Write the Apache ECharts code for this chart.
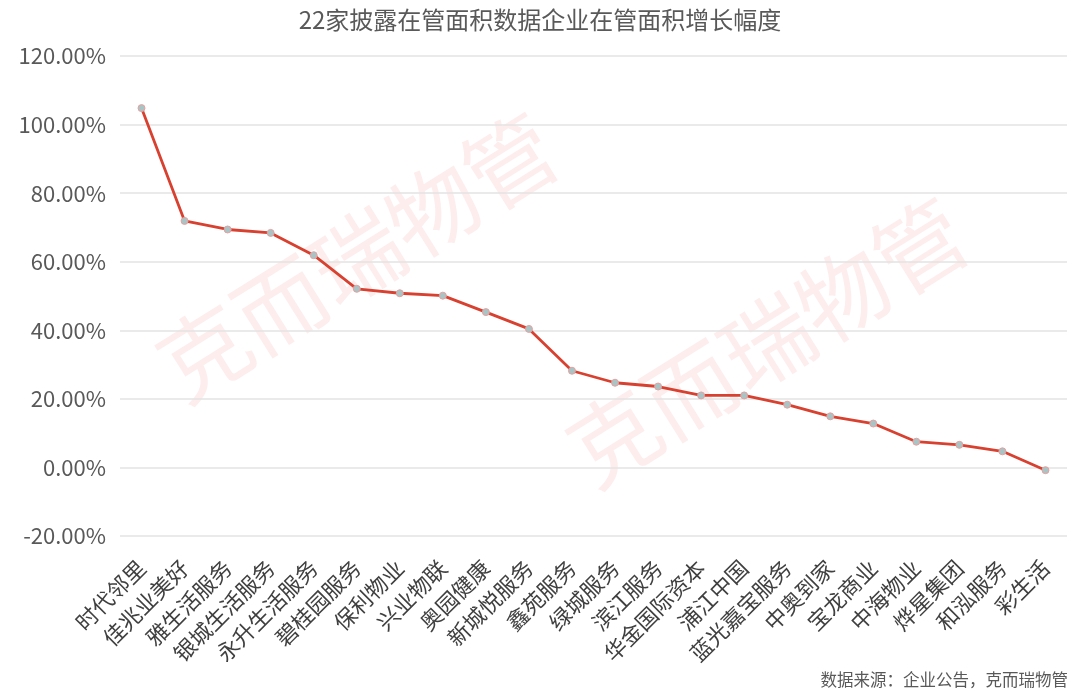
<!DOCTYPE html>
<html>
<head>
<meta charset="utf-8">
<script src="https://cdn.jsdelivr.net/npm/echarts@6/dist/echarts.min.js"></script>
<style>html,body{margin:0;padding:0;background:#fff}#c{width:1080px;height:692px}</style>
</head>
<body>
<div id="c"></div>
<script>
const categories = ['时代邻里','佳兆业美好','雅生活服务','银城生活服务','永升生活服务','碧桂园服务','保利物业','兴业物联','奥园健康','新城悦服务','鑫苑服务','绿城服务','滨江服务','华金国际资本','浦江中国','蓝光嘉宝服务','中奥到家','宝龙商业','中海物业','烨星集团','和泓服务','彩生活'];
const growth = [104.8, 71.9, 69.4, 68.4, 61.9, 52.1, 50.8, 50.1, 45.3, 40.4, 28.2, 24.7, 23.6, 21.0, 21.0, 18.3, 14.9, 12.8, 7.5, 6.6, 4.7, -0.8];
const yTicks = {min: -20, max: 120, interval: 20};
const titleText = '22家披露在管面积数据企业在管面积增长幅度';
const sourceText = '数据来源：企业公告，克而瑞物管';
const watermark = '克而瑞物管';

const FONT = '"Noto Sans CJK SC", "Noto Sans", sans-serif';
const chart = echarts.init(document.getElementById('c'), null, {renderer: 'canvas'});
chart.setOption({
  animation: false,
  backgroundColor: '#ffffff',
  title: {
    text: titleText, left: 'center', top: 3,
    textStyle: {fontFamily: FONT, fontSize: 24, fontWeight: 'normal', color: '#595959'}
  },
  grid: {left: 120, right: 13, top: 56, bottom: 156, containLabel: false},
  xAxis: {
    type: 'category', data: categories, boundaryGap: true,
    axisLine: {show: false}, axisTick: {show: false},
    axisLabel: {rotate: 45, interval: 0, margin: 28, fontFamily: FONT, fontSize: 22, color: '#404040'}
  },
  yAxis: {
    type: 'value', min: yTicks.min, max: yTicks.max, interval: yTicks.interval,
    axisLine: {show: false}, axisTick: {show: false},
    axisLabel: {margin: 14, fontFamily: FONT, fontSize: 22, color: '#595959', formatter: v => v.toFixed(2) + '%'},
    splitLine: {lineStyle: {color: '#e3e3e3', width: 1.5}}
  },
  graphic: [
    {type: 'text', z: -10, silent: true, x: 357, y: 257, rotation: 32 * Math.PI / 180,
     style: {text: watermark, font: '90px ' + FONT, fill: 'rgba(240,110,110,0.12)', align: 'center', verticalAlign: 'middle'}},
    {type: 'text', z: -10, silent: true, x: 767, y: 342, rotation: 32 * Math.PI / 180,
     style: {text: watermark, font: '90px ' + FONT, fill: 'rgba(240,110,110,0.12)', align: 'center', verticalAlign: 'middle'}},
    {type: 'text', right: 12, bottom: 4,
     style: {text: sourceText, font: '16.5px ' + FONT, fill: '#595959'}}
  ],
  series: [{
    type: 'line', data: growth, z: 5,
    lineStyle: {color: '#d8402f', width: 2.8},
    symbol: 'circle', symbolSize: 7,
    itemStyle: {color: '#a9c4c4', borderColor: '#e8a0a0', borderWidth: 1}
  }]
});
</script>
</body>
</html>
